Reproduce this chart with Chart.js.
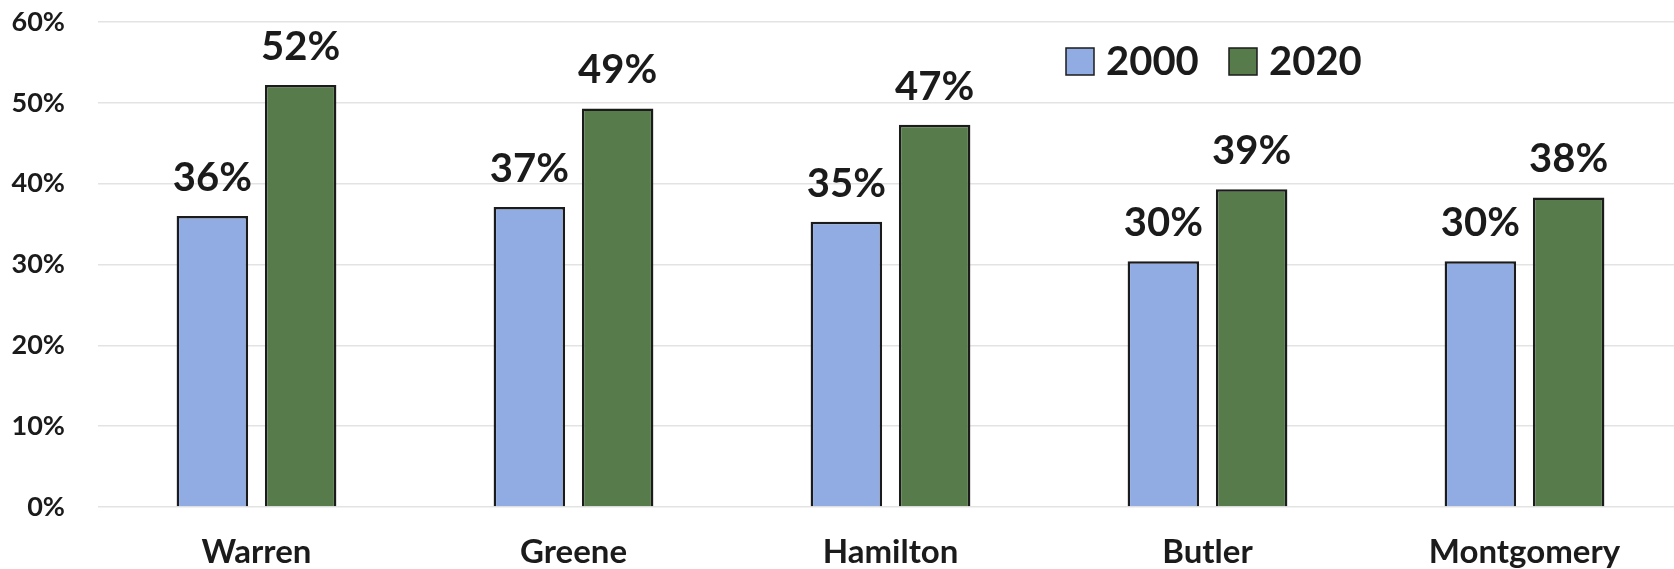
<!DOCTYPE html>
<html>
<head>
<meta charset="utf-8">
<script src="https://cdn.jsdelivr.net/npm/chart.js@4"></script>
<style>
    html, body { margin: 0; padding: 0; background: #fff; overflow: hidden; }
    #wrap { width: 1690px; height: 569px; }
</style>
</head>
<body>
<div id="wrap"><canvas id="shareChart"></canvas></div>
<script>
const counties = ['Warren', 'Greene', 'Hamilton', 'Butler', 'Montgomery'];
const share2000 = [36.0, 37.1, 35.3, 30.4, 30.4];
const share2020 = [52.2, 49.3, 47.3, 39.3, 38.3];
const yTicks = [0, 10, 20, 30, 40, 50, 60];

const fontFamily = 'Lato, "Open Sans", sans-serif';
const textColor = '#1b1b1b';

// value labels over bars + legend inside plot area
const barLabels = {
    id: 'barLabels',
    afterDatasetsDraw(chart) {
        const ctx = chart.ctx;
        ctx.save();
        ctx.fillStyle = textColor;
        ctx.font = 'bold 40px ' + fontFamily;
        ctx.textAlign = 'center';
        ctx.textBaseline = 'alphabetic';
        chart.data.datasets.forEach((ds, i) => {
            chart.getDatasetMeta(i).data.forEach((bar, j) => {
                ctx.fillText(Math.round(ds.data[j]) + '%', bar.x, bar.y - 25);
            });
        });

        // legend
        const legendX = [1066, 1229];
        chart.data.datasets.forEach((ds, i) => {
            const x = legendX[i];
            ctx.fillStyle = ds.backgroundColor;
            ctx.fillRect(x, 48, 28, 27);
            ctx.strokeStyle = '#1b1b1b';
            ctx.lineWidth = 1.5;
            ctx.strokeRect(x, 48, 28, 27);
            ctx.fillStyle = textColor;
            ctx.textAlign = 'left';
            ctx.fillText(ds.label, x + 40, 75);
        });
        ctx.restore();
    }
};

new Chart(document.getElementById('shareChart'), {
    type: 'bar',
    data: {
        labels: counties,
        datasets: [{
            label: '2000',
            data: share2000,
            backgroundColor: '#91abe3',
            borderColor: '#1b1b1b',
            borderWidth: 2.5,
            barPercentage: 0.81,
            categoryPercentage: 0.557
        }, {
            label: '2020',
            data: share2020,
            backgroundColor: '#587b4b',
            borderColor: '#1b1b1b',
            borderWidth: 2.5,
            barPercentage: 0.81,
            categoryPercentage: 0.557
        }]
    },
    options: {
        responsive: true,
        maintainAspectRatio: false,
        animation: false,
        layout: {
            padding: { top: 0, right: 7, left: 0, bottom: 0 }
        },
        plugins: {
            legend: { display: false },
            tooltip: { enabled: false }
        },
        scales: {
            x: {
                grid: { display: false },
                border: { display: false },
                ticks: {
                    color: textColor,
                    font: { family: fontFamily, size: 33, weight: 'bold' },
                    padding: 18
                },
                afterFit(scale) { scale.height = 62; }
            },
            y: {
                min: 0,
                max: 60,
                afterBuildTicks(scale) {
                    scale.ticks = yTicks.map(v => ({ value: v }));
                },
                grid: { color: '#e3e3e3', lineWidth: 1.5, drawTicks: false },
                border: { display: false },
                ticks: {
                    color: textColor,
                    font: { family: fontFamily, size: 27, weight: 'bold' },
                    padding: 33,
                    callback: (v) => v + '%'
                },
                afterFit(scale) {
                    scale.width = 98;
                    scale.paddingTop = 22;
                    scale.paddingBottom = 0;
                }
            }
        }
    },
    plugins: [barLabels]
});
</script>
</body>
</html>
